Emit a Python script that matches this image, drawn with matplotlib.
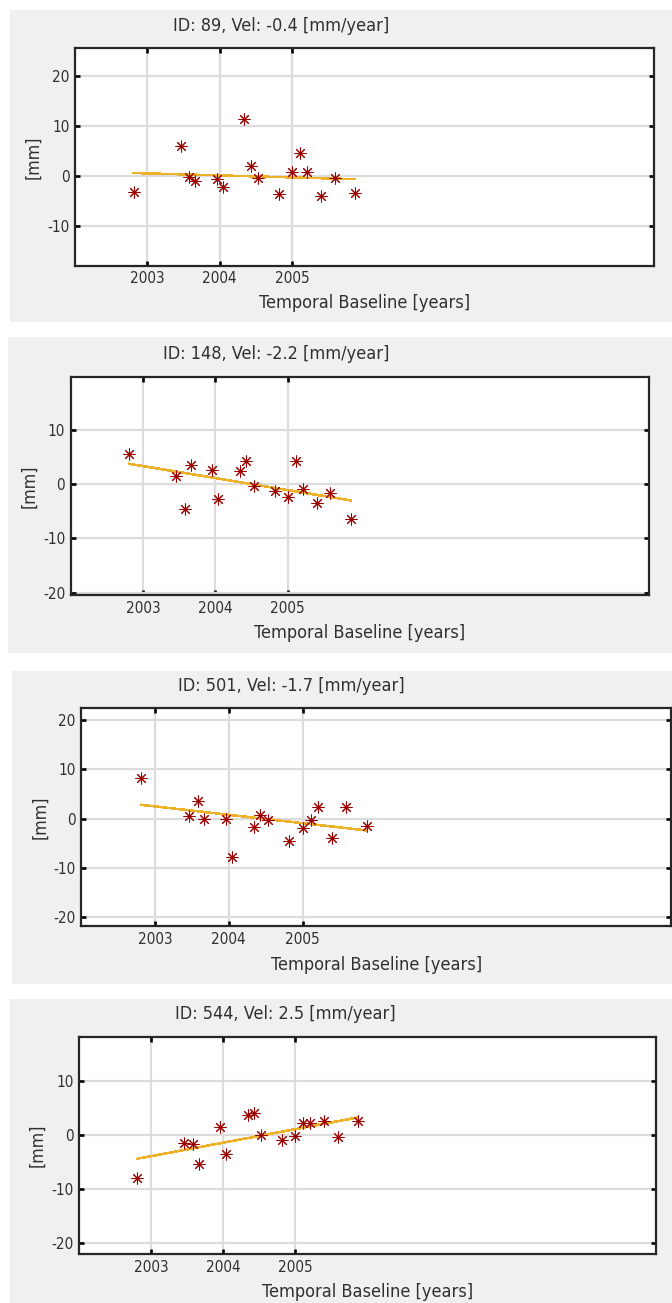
import matplotlib
matplotlib.use("Agg")
import matplotlib.pyplot as plt
from matplotlib.patches import Rectangle

plt.rcParams["font.family"] = "DejaVu Sans"
plt.rcParams["font.stretch"] = "condensed"

# ---------------- data ----------------
point_ids = [89, 148, 501, 544]
velocities = [-0.4, -2.2, -1.7, 2.5]          # mm/year

dates = [2002.81, 2003.46, 2003.58, 2003.66, 2003.96, 2004.04, 2004.34, 2004.43,
         2004.53, 2004.82, 2005.00, 2005.11, 2005.21, 2005.40, 2005.59, 2005.87]

disp_89 = [-3.1, 6.0, -0.1, -0.9, -0.5, -2.1, 11.3, 2.1,
           -0.3, -3.5, 0.9, 4.5, 0.9, -4.0, -0.3, -3.3]
disp_148 = [5.5, 1.5, -4.6, 3.5, 2.6, -2.8, 2.4, 4.3,
            -0.3, -1.3, -2.4, 4.3, -1.0, -3.5, -1.7, -6.5]
disp_501 = [8.2, 0.5, 3.6, 0.0, 0.0, -7.8, -1.8, 0.7,
            -0.3, -4.5, -2.0, -0.2, 2.4, -4.0, 2.4, -1.5]
disp_544 = [-8.0, -1.4, -1.7, -5.4, 1.4, -3.5, 3.7, 4.0,
            0.0, -1.0, -0.2, 2.3, 2.3, 2.5, -0.4, 2.5]
displacements = [disp_89, disp_148, disp_501, disp_544]

# trend value at the first acquisition date (mm)
trend_start = [0.6, 3.7, 2.8, -4.4]

year_ticks = [2003, 2004, 2005]
mm_ticks = [[-10, 0, 10, 20], [-20, -10, 0, 10], [-20, -10, 0, 10, 20], [-20, -10, 0, 10]]
x_limits = (2002.0, 2010.0)
y_limits = [(-17.9, 25.5), (-20.4, 19.6), (-21.8, 22.4), (-22.1, 18.2)]

# ---------------- layout (pixels, origin top-left) ----------------
W, H = 672, 1303
# panel background: left, top, right, bottom
panel_boxes = [(10, 10, 672, 322), (8, 337, 672, 653), (12, 671, 672, 984), (10, 999, 672, 1303)]
# axes frame: left, top, right, bottom
axes_boxes = [(75, 48.3, 653.5, 265.7), (70.7, 377.3, 649.4, 595.0),
              (81.4, 708.3, 671.0, 926.0), (78.9, 1036.7, 655.8, 1254.3)]
# title centre x and baseline y
title_pos = [(280.7, 39.3), (276.4, 367.7), (291.5, 699.3), (285.0, 1027.3)]
xlabel_base = [308.0, 638.3, 970.0, 1296.7]
ylabel_offset = 41.5

marker_color = "#9b0000"
trend_color = "#edb22a"
grid_color = "#dcdcdc"
frame_color = "#262626"
text_color = "#303030"

fig = plt.figure(figsize=(W / 100, H / 100), dpi=100, facecolor="white")


def fx(x):
    return x / W


def fy(y):
    return 1 - y / H


for i in range(4):
    l, t, r, b = panel_boxes[i]
    fig.add_artist(Rectangle((fx(l), fy(b)), fx(r) - fx(l), fy(t) - fy(b),
                             transform=fig.transFigure, facecolor="#f0f0f0",
                             edgecolor="none", zorder=-5))

    al, at, ar, ab = axes_boxes[i]
    ax = fig.add_axes([fx(al), fy(ab), fx(ar) - fx(al), fy(at) - fy(ab)])
    ax.set_facecolor("white")
    ax.set_xlim(*x_limits)
    ax.set_ylim(*y_limits[i])
    ax.set_xticks(year_ticks)
    ax.set_xticklabels([str(y) for y in year_ticks])
    ax.set_yticks(mm_ticks[i])
    ax.set_yticklabels([str(v) for v in mm_ticks[i]])

    ax.grid(True, color=grid_color, linewidth=1.6, zorder=0)
    ax.set_axisbelow(True)
    for s in ax.spines.values():
        s.set_color(frame_color)
        s.set_linewidth(1.6)
    ax.tick_params(direction="in", length=3.6, width=1.9, color="black",
                   top=True, right=True, labelsize=11, labelcolor=text_color, pad=4)

    t0, t1 = dates[0], dates[-1]
    y0 = trend_start[i]
    y1 = y0 + velocities[i] * (t1 - t0)
    ax.plot([t0, t1], [y0, y1], color=trend_color, linewidth=1.1,
            antialiased=False, zorder=2)
    ax.plot(dates, displacements[i], linestyle="none", marker=(8, 2, 0),
            markersize=8.5, markeredgewidth=0.75, color=marker_color, zorder=3)

    width_px = ar - al
    height_px = ab - at
    tx, ty = title_pos[i]
    ax.set_title(f"ID: {point_ids[i]}, Vel: {velocities[i]:.1f} [mm/year]",
                 x=(tx - al) / width_px, y=(ab - ty) / height_px,
                 va="baseline", fontsize=13, color=text_color)
    ax.set_xlabel("Temporal Baseline [years]", fontsize=13, color=text_color,
                  va="baseline")
    ax.xaxis.set_label_coords(0.5, (ab - xlabel_base[i]) / height_px)
    ax.set_ylabel("[mm]", fontsize=12.7, color=text_color, va="center")
    ax.yaxis.set_label_coords(-ylabel_offset / width_px, 0.5)

fig.savefig("out.png", dpi=100, facecolor="white")
